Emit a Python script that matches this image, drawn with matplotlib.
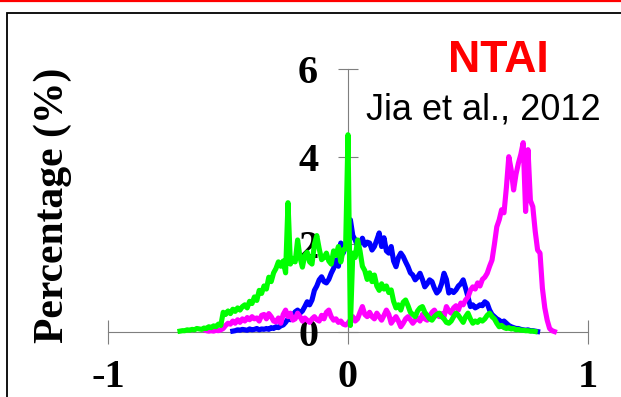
import numpy as np
import matplotlib
matplotlib.use("Agg")
import matplotlib.pyplot as plt
from matplotlib.patches import Rectangle
from matplotlib.lines import Line2D

# Distributions of NTAI values (percentage of pixels per 0.01 bin)
step = 0.01

green_start = -0.70
green_pct = [
    0.02, 0.03, 0.03, 0.05, 0.04, 0.06, 0.05, 0.08, 0.07, 0.06, 0.09, 0.08, 0.12, 0.10, 0.14, 0.12, 0.18, 0.15,
    0.45, 0.40, 0.48, 0.42, 0.52, 0.47, 0.55, 0.50,
    0.58, 0.62, 0.55, 0.70, 0.65, 0.80, 0.72,
    0.95, 0.88, 1.05, 0.98, 1.25, 1.15, 1.35,
    1.45, 1.60, 1.50, 1.62, 1.35,
    2.95,
    1.55, 1.68, 1.60, 2.10, 1.70, 1.48,
    1.75, 1.82, 1.60, 1.55, 2.00, 2.20, 1.90,
    1.65, 1.70, 1.80, 1.62, 1.55, 1.85, 1.75, 1.95, 1.60, 1.88,
    1.90,
    4.50,
    0.15,
    1.80, 1.70, 2.10, 1.85, 1.50,
    1.40, 1.20, 1.35, 1.15, 1.30, 1.05,
    0.95, 1.10, 0.98, 1.05, 0.90, 0.96,
    0.70, 0.55, 0.62, 0.50, 0.68, 0.73,
    0.60, 0.45, 0.40, 0.35, 0.48, 0.55,
    0.58, 0.45, 0.38, 0.30, 0.27, 0.35,
    0.40, 0.43, 0.35, 0.30, 0.22, 0.20,
    0.25, 0.35, 0.43, 0.38, 0.30, 0.22,
    0.35, 0.43, 0.30, 0.20, 0.25, 0.22,
    0.28, 0.25, 0.30, 0.38, 0.43, 0.35,
    0.30, 0.20, 0.12, 0.15, 0.10, 0.08,
    0.10, 0.07, 0.08, 0.05, 0.06, 0.04,
    0.04, 0.03, 0.03, 0.02, 0.02, 0.01,
]

blue_start = -0.48
blue_pct = [
    0.02, 0.03, 0.05, 0.04, 0.06, 0.05, 0.04, 0.07, 0.05, 0.06, 0.08, 0.05, 0.07, 0.06,
    0.08, 0.06, 0.10, 0.08, 0.12, 0.10, 0.14,
    0.16, 0.22, 0.30, 0.28, 0.38, 0.46,
    0.50, 0.43, 0.48, 0.58, 0.69, 0.62, 0.73,
    0.95, 1.05, 1.19, 1.26, 1.15, 1.12, 1.20,
    1.34, 1.45, 1.64, 1.50, 2.03, 1.80, 1.95,
    2.30, 2.56, 2.20, 2.10, 1.95, 2.03,
    2.14, 1.98, 2.05, 2.03, 1.87, 1.95,
    2.10, 2.26, 1.95, 2.15, 1.85, 1.80,
    1.95, 1.62, 1.49, 1.70, 1.80, 1.72,
    1.60, 1.49, 1.35, 1.30, 1.19, 1.25,
    1.34, 1.20, 1.03, 1.10, 1.19, 1.15,
    1.00, 0.89, 0.95, 1.10, 1.34, 1.20,
    0.89, 0.95, 0.90, 0.96, 1.05, 1.10,
    1.19, 1.00, 0.80, 0.58, 0.62, 0.55,
    0.58, 0.62, 0.60, 0.69, 0.65, 0.50,
    0.40, 0.35, 0.30, 0.27, 0.22, 0.25,
    0.20, 0.15, 0.12, 0.10, 0.08, 0.08,
    0.06, 0.05, 0.04, 0.05, 0.03, 0.03, 0.02, 0.01,
]

magenta_start = -0.60
magenta_pct = [
    0.06, 0.03, 0.02, 0.03, 0.02, 0.04, 0.03, 0.05,
    0.08, 0.15, 0.20, 0.18, 0.25, 0.20, 0.28,
    0.22, 0.30, 0.25, 0.33, 0.28, 0.35, 0.30,
    0.32, 0.25, 0.38, 0.40, 0.30, 0.42, 0.35,
    0.25, 0.23, 0.32, 0.20, 0.40, 0.50, 0.35,
    0.43, 0.27, 0.30, 0.43, 0.35, 0.25, 0.32,
    0.27, 0.22, 0.30, 0.35, 0.28, 0.25, 0.38,
    0.30, 0.45, 0.50, 0.35, 0.27, 0.30, 0.22,
    0.25, 0.18, 0.16, 0.20, 0.28, 0.35, 0.25,
    0.30, 0.45, 0.58, 0.40, 0.35, 0.45, 0.35,
    0.30, 0.43, 0.35, 0.27, 0.38, 0.50, 0.40,
    0.20, 0.28, 0.35, 0.25, 0.12, 0.20, 0.30,
    0.35, 0.28, 0.20, 0.27, 0.32, 0.25, 0.40,
    0.30, 0.27, 0.35, 0.45, 0.50, 0.40, 0.35,
    0.42, 0.35, 0.58, 0.48, 0.43, 0.55, 0.60,
    0.50, 0.66, 0.62, 0.73, 0.80, 0.95, 1.03,
    0.98, 1.12, 1.05, 1.20, 1.25, 1.34, 1.50,
    1.64, 2.00, 2.40, 2.56, 2.79, 2.72, 3.30,
    4.00, 3.70, 3.24, 3.60, 3.85, 4.05, 4.32,
    2.75, 4.16, 3.00, 2.86, 2.30, 1.87, 1.80,
    1.00, 0.55, 0.27, 0.08, 0.03, 0.01,
]

x_ticks = [-1, 0, 1]
y_ticks = [0, 2, 4, 6]


def bins(start, values):
    return np.round(start + step * np.arange(len(values)), 2)


W, H = 621, 397
fig = plt.figure(figsize=(W / 100, H / 100), dpi=100)
ax = fig.add_axes([0, 0, 1, 1])
ax.patch.set_alpha(0)

# data limits chosen so the axes cross near the middle-left of the frame
ax.set_xlim(-1.45, 1.1375)
ax.set_ylim(-1.483, 7.575)

lw = 3.7
ax.plot(bins(blue_start, blue_pct), blue_pct, color="#0000ff", lw=lw, solid_joinstyle="round")
ax.plot(bins(magenta_start, magenta_pct), magenta_pct, color="#ff00ff", lw=lw, solid_joinstyle="round")
ax.plot(bins(green_start, green_pct), green_pct, color="#00ff00", lw=lw, solid_joinstyle="round")

axis_grey = "#7f7f7f"
for side in ("top", "right"):
    ax.spines[side].set_visible(False)
ax.spines["bottom"].set_position(("data", 0))
ax.spines["left"].set_position(("data", 0))
ax.spines["bottom"].set_bounds(-1, 1)
ax.spines["left"].set_bounds(0, 6)
for side in ("bottom", "left"):
    ax.spines[side].set_color(axis_grey)
    ax.spines[side].set_linewidth(0.8)
    ax.spines[side].set_zorder(0.5)

tick_font = dict(family="Liberation Serif", weight="bold", size=29)
ax.set_xticks(x_ticks)
ax.set_yticks(y_ticks)
ax.set_xticklabels([str(t) for t in x_ticks], **tick_font)
ax.set_yticklabels([str(t) for t in y_ticks], **tick_font)
ax.tick_params(axis="x", direction="inout", length=17, width=0.8, color=axis_grey, pad=11)
ax.tick_params(axis="y", direction="inout", length=15, width=0.8, color=axis_grey, pad=14)

fig.text(53 / W, 1 - 205 / H, "Percentage (%)", rotation=90, ha="center", va="center",
         family="Liberation Serif", weight="bold", size=30)

fig.text(498 / W, 1 - 60 / H, "NTAI", ha="center", va="center", color="#ff0000",
         family="Liberation Sans", weight="bold", size=32)
fig.text(483 / W, 1 - 110 / H, "Jia et al., 2012", ha="center", va="center", color="black",
         family="Liberation Sans", size=26)

# slide frame and top rule
fig.patches.append(Rectangle((6.5 / W, -0.2), 2.0, 1.2 - 12.5 / H, transform=fig.transFigure,
                             fill=False, edgecolor="black", linewidth=1.3))
fig.lines.append(Line2D([0, 1], [1 - 0.8 / H, 1 - 0.8 / H], transform=fig.transFigure,
                        color="#ff0000", linewidth=1.6))

fig.savefig("out.png", dpi=100, facecolor="white")
